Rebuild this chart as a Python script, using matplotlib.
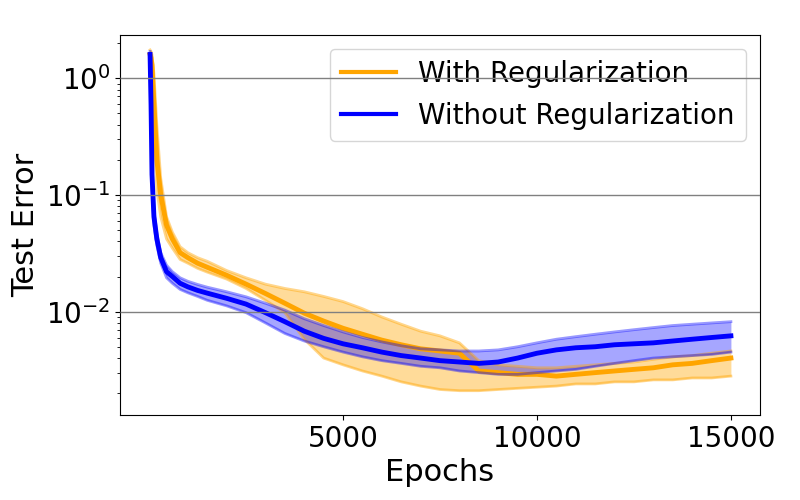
import numpy as np
import matplotlib
matplotlib.use("Agg")
import matplotlib.pyplot as plt

epochs = [25, 50, 75, 125, 200, 300, 450, 600, 800, 1000, 1250, 1500,
          2000, 2500, 3000, 3500, 4000, 4500, 5000, 5500, 6000, 6500,
          7000, 7500, 8000, 8500, 9000, 9500, 10000, 10500, 11000, 11500,
          12000, 12500, 13000, 13500, 14000, 14500, 15000]

# with regularization (mean, upper, lower)
reg_mean = [1.6, 1.5, 1.3, 0.6, 0.2, 0.1, 0.055, 0.042, 0.032, 0.029, 0.026, 0.024,
            0.0205, 0.0172, 0.0143, 0.0118, 0.0097, 0.0083, 0.0072, 0.0064, 0.0057, 0.0052,
            0.0048, 0.0046, 0.0044, 0.0031, 0.0030, 0.0029, 0.0029, 0.0028, 0.0029, 0.0030,
            0.0031, 0.0032, 0.0033, 0.0035, 0.0036, 0.0038, 0.0040]
reg_upper = [1.75, 1.7, 1.6, 1.1, 0.4, 0.14, 0.065, 0.048, 0.036, 0.032, 0.029, 0.027,
             0.0225, 0.0195, 0.0172, 0.0158, 0.0148, 0.0135, 0.0122, 0.0106, 0.0090, 0.0078,
             0.0068, 0.0062, 0.0054, 0.0038, 0.0035, 0.0034, 0.0033, 0.0033, 0.0034, 0.0035,
             0.0036, 0.0037, 0.0039, 0.0041, 0.0042, 0.0044, 0.0046]
reg_lower = [1.5, 1.3, 1.0, 0.35, 0.11, 0.065, 0.042, 0.035, 0.028, 0.026, 0.0235, 0.0218,
             0.019, 0.0158, 0.0125, 0.0098, 0.0058, 0.0040, 0.0035, 0.0031, 0.0028, 0.0025,
             0.0023, 0.00215, 0.0021, 0.0021, 0.00215, 0.0022, 0.00225, 0.0023, 0.0024, 0.0024,
             0.0025, 0.0025, 0.0026, 0.0026, 0.0027, 0.0027, 0.0028]

# without regularization (mean, upper, lower)
noreg_mean = [1.6, 0.6, 0.15, 0.065, 0.042, 0.029, 0.022, 0.020, 0.0175, 0.0163, 0.0152, 0.0144,
              0.0130, 0.0116, 0.0098, 0.0082, 0.0068, 0.0059, 0.0053, 0.0049, 0.0045, 0.0042,
              0.0040, 0.0038, 0.0037, 0.0036, 0.0037, 0.0040, 0.0044, 0.0047, 0.0049, 0.0050,
              0.0052, 0.0053, 0.0054, 0.0056, 0.0058, 0.0060, 0.0062]
noreg_upper = [1.7, 0.75, 0.18, 0.075, 0.047, 0.032, 0.025, 0.022, 0.0195, 0.0182, 0.0171, 0.0162,
               0.0148, 0.0134, 0.0118, 0.0103, 0.0087, 0.0076, 0.0067, 0.0060, 0.0055, 0.0051,
               0.0048, 0.0047, 0.0046, 0.0046, 0.0047, 0.0050, 0.0054, 0.0058, 0.0061, 0.0064,
               0.0067, 0.0070, 0.0073, 0.0076, 0.0078, 0.0080, 0.0082]
noreg_lower = [1.5, 0.5, 0.12, 0.055, 0.037, 0.026, 0.0195, 0.0175, 0.0155, 0.0145, 0.0135, 0.0125,
               0.0112, 0.0098, 0.0080, 0.0065, 0.0056, 0.0050, 0.0045, 0.0041, 0.0038, 0.0036,
               0.0034, 0.0033, 0.0031, 0.0030, 0.0029, 0.0029, 0.0030, 0.0031, 0.0032, 0.0034,
               0.0036, 0.0038, 0.0040, 0.0041, 0.0042, 0.0043, 0.0045]

xticks = [5000, 10000, 15000]


def main():
    fig, ax = plt.subplots(figsize=(8, 5), dpi=100)
    fig.subplots_adjust(left=0.15, right=0.95, top=0.93, bottom=0.17)

    # with regularization
    ax.fill_between(epochs, reg_lower, reg_upper, color='orange', alpha=0.4, lw=0)
    ax.plot(epochs, reg_upper, color='orange', alpha=0.45, lw=2)
    ax.plot(epochs, reg_lower, color='orange', alpha=0.45, lw=2)
    ax.plot(epochs, reg_mean, color='orange', lw=3.5, label='With Regularization')

    # without regularization
    ax.fill_between(epochs, noreg_lower, noreg_upper, color='blue', alpha=0.35, lw=0)
    ax.plot(epochs, noreg_upper, color='blue', alpha=0.4, lw=2)
    ax.plot(epochs, noreg_lower, color='blue', alpha=0.4, lw=2)
    ax.plot(epochs, noreg_mean, color='blue', lw=3.5, label='Without Regularization')

    ax.set_yscale('log')
    ax.set_ylim(1.3e-3, 2.35)
    ax.set_xlim(-750, 15750)
    ax.set_xticks(xticks)
    ax.tick_params(labelsize=20)
    ax.set_xlabel('Epochs', fontsize=22)
    ax.set_ylabel('Test Error', fontsize=22)

    ax.set_axisbelow(False)
    ax.grid(axis='y', which='major', color='gray', lw=1)
    leg = ax.legend(loc='upper right', fontsize=20)
    for line in leg.get_lines():
        line.set_linewidth(3)
    leg.set_zorder(2.4)

    plt.savefig('out.png')


if __name__ == '__main__':
    main()
